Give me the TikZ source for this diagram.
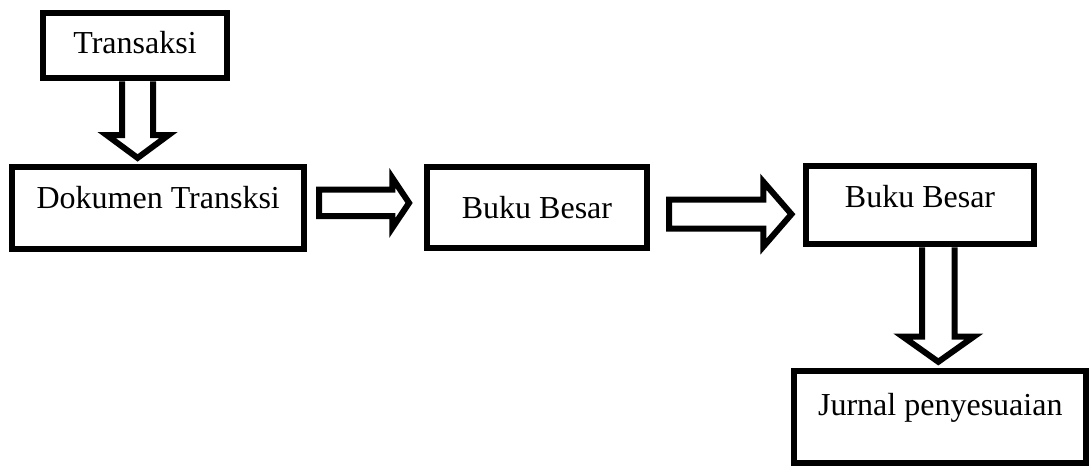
\documentclass[tikz,border=0pt]{standalone}
\usepackage{fontspec}
\setmainfont{Liberation Serif}
\usetikzlibrary{calc}

\tikzset{
  stage/.style={draw=black, line width=6pt, rectangle, inner sep=0pt,
    font=\fontsize{32}{38}\selectfont, text height=22pt},
  blk/.style={draw=black, line width=6pt, line join=miter, fill=white}
}

% vertical block arrow: #1 shaft start (top), #2 tip; shaft half-width, head half-width, head length
\newcommand\blockdown[5]{%
  \draw[blk] let \p1=(#1), \p2=(#2) in
    (\x1-#3pt,\y1) -- (\x1-#3pt,\y2+#5pt) -- (\x1-#4pt,\y2+#5pt) -- (\x1,\y2)
    -- (\x1+#4pt,\y2+#5pt) -- (\x1+#3pt,\y2+#5pt) -- (\x1+#3pt,\y1);}
% horizontal block arrow: #1 shaft start (left, centre line), #2 tip
\newcommand\blockright[5]{%
  \draw[blk] let \p1=(#1), \p2=(#2) in
    (\x1,\y1+#3pt) -- (\x2-#5pt,\y1+#3pt) -- (\x2-#5pt,\y1+#4pt) -- (\x2,\y1)
    -- (\x2-#5pt,\y1-#4pt) -- (\x2-#5pt,\y1-#3pt) -- (\x1,\y1-#3pt) -- cycle;}

\begin{document}
\begin{tikzpicture}[x=1pt, y=-1pt]
  \useasboundingbox (0,0) rectangle (1092,467);

  \node[stage, minimum width=184.5pt, minimum height=65.5pt, text depth=7pt]
    (tr) at (135,45.5) {Transaksi};
  \node[stage, minimum width=292pt, minimum height=82pt, text depth=21.8pt]
    (dok) at (158.2,207.9) {Dokumen Transksi};
  \node[stage, minimum width=220.5pt, minimum height=81pt, text depth=0.6pt]
    (bb1) at (537,207.3) {Buku Besar};
  \node[stage, minimum width=228.5pt, minimum height=78.5pt, text depth=18pt]
    (bb2) at (920,205) {Buku Besar};
  \node[stage, minimum width=291.8pt, minimum height=92pt, text depth=25.6pt]
    (jr) at (940.3,416.8) {Jurnal penyesuaian};

  % Transaksi -> Dokumen Transksi
  \coordinate (a1) at ($(tr.south)+(2.6,0)$);
  \coordinate (a2) at ($(dok.north)+(0,-6)$);
  \blockdown{a1}{a2}{15.5}{31}{22.9}

  % Dokumen Transksi -> Buku Besar
  \coordinate (b1) at ($(dok.east)+(12,-5)$);
  \coordinate (b2) at ($(bb1.west)+(-14.7,0)$);
  \blockright{b1}{b2}{13.3}{25}{16.7}

  % Buku Besar -> Buku Besar
  \coordinate (c1) at ($(bb1.east)+(18.8,6.9)$);
  \coordinate (c2) at ($(bb2.west)+(-11.3,0)$);
  \blockright{c1}{c2}{14.5}{32.5}{28.2}

  % Buku Besar -> Jurnal penyesuaian
  \coordinate (d1) at ($(bb2.south)+(18.3,0)$);
  \coordinate (d2) at ($(jr.north)+(0,-6)$);
  \blockdown{d1}{d2}{16.25}{35.5}{25.2}
\end{tikzpicture}
\end{document}
